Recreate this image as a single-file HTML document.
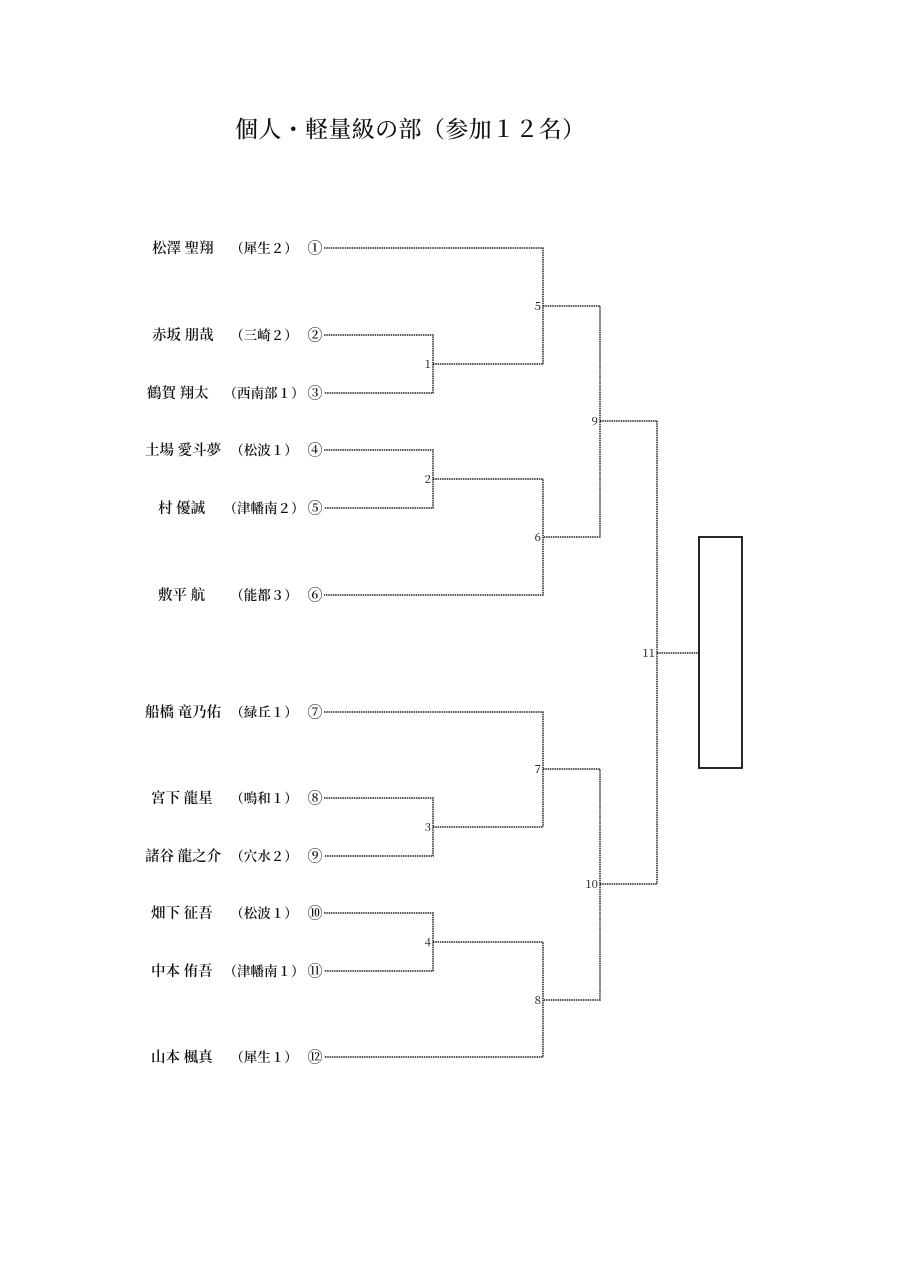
<!DOCTYPE html>
<html><head><meta charset="utf-8"><style>
html,body{margin:0;padding:0;background:#fff;}
svg{display:block;}
text{font-family:"Noto Serif CJK SC","Liberation Serif",serif;fill:#111;}
.n{font-size:14.5px;font-weight:600;}
.s{font-size:13.5px;font-weight:600;}
.c{font-size:15px;font-weight:600;}
.m{font-size:11.5px;}
</style></head><body>
<svg width="905" height="1280" viewBox="0 0 905 1280" xmlns="http://www.w3.org/2000/svg">
<text x="410" y="137" font-size="23" text-anchor="middle" textLength="350" font-weight="500">個人・軽量級の部（参加１２名）</text>
<g class="n">
<text x="152" y="253">松澤 聖翔</text>
<text x="152" y="340">赤坂 朋哉</text>
<text x="147" y="398">鶴賀 翔太</text>
<text x="145" y="455">土場 愛斗夢</text>
<text x="158" y="513">村 優誠</text>
<text x="158" y="600">敷平 航</text>
<text x="145" y="717">船橋 竜乃佑</text>
<text x="151" y="803">宮下 龍星</text>
<text x="145" y="861">諸谷 龍之介</text>
<text x="151" y="918">畑下 征吾</text>
<text x="151" y="976">中本 侑吾</text>
<text x="151" y="1062">山本 楓真</text>
</g>
<g class="s" text-anchor="middle">
<text x="264" y="253">（犀生２）</text>
<text x="264" y="340">（三崎２）</text>
<text x="264" y="398">（西南部１）</text>
<text x="264" y="455">（松波１）</text>
<text x="264" y="513">（津幡南２）</text>
<text x="264" y="600">（能都３）</text>
<text x="264" y="717">（緑丘１）</text>
<text x="264" y="803">（鳴和１）</text>
<text x="264" y="861">（穴水２）</text>
<text x="264" y="918">（松波１）</text>
<text x="264" y="976">（津幡南１）</text>
<text x="264" y="1062">（犀生１）</text>
</g>
<g class="c" text-anchor="middle">
<text x="315" y="253">①</text><text x="315" y="340">②</text><text x="315" y="398">③</text><text x="315" y="455">④</text>
<text x="315" y="513">⑤</text><text x="315" y="600">⑥</text><text x="315" y="717">⑦</text><text x="315" y="803">⑧</text>
<text x="315" y="861">⑨</text><text x="315" y="918">⑩</text><text x="315" y="976">⑪</text><text x="315" y="1062">⑫</text>
</g>
<g fill="none" stroke="#222" stroke-width="1.5" stroke-dasharray="1.5,0.8">
<path d="M324 248H543V364M324 335H433V393H324M433 364H543"/>
<path d="M324 450H433V508H324M433 479H543V595H324"/>
<path d="M543 306H600V537H543M600 421H657"/>
<path d="M324 712H543V827M324 798H433V856H324M433 827H543"/>
<path d="M324 913H433V971H324M433 942H543V1057H324"/>
<path d="M543 769H600V1000H543M600 884H657"/>
<path d="M657 421V884M657 653H699"/>
</g>
<rect x="699" y="537" width="43" height="231" fill="none" stroke="#111" stroke-width="1.8"/>
<g class="m" text-anchor="end">
<text x="431" y="368">1</text><text x="431" y="483">2</text><text x="431" y="831">3</text><text x="431" y="946">4</text>
<text x="541" y="310">5</text><text x="541" y="541">6</text><text x="541" y="773">7</text><text x="541" y="1004">8</text>
<text x="598" y="425">9</text><text x="598" y="888">10</text><text x="655" y="657">11</text>
</g>
</svg>
</body></html>
